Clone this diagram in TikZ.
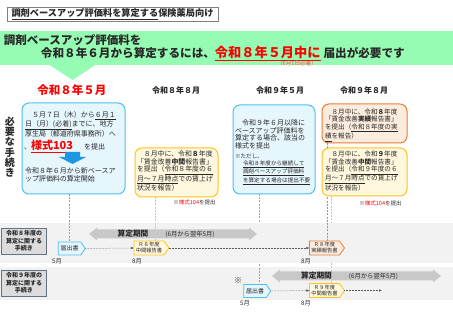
\documentclass[tikz,border=0pt]{standalone}
\usepackage{fontspec}
\setmainfont{Noto Sans CJK JP}
\usetikzlibrary{arrows.meta,shapes.symbols,calc}
\pgfdeclarelayer{l0}\pgfdeclarelayer{l1}\pgfdeclarelayer{l2}\pgfdeclarelayer{l3}
\pgfsetlayers{l0,l1,l2,l3,main}
\definecolor{cgreen}{RGB}{150,252,180}
\definecolor{cred}{RGB}{255,0,0}
\definecolor{cblueB}{RGB}{80,190,240}
\definecolor{cblueF}{RGB}{230,246,253}
\definecolor{cblueA}{RGB}{30,150,225}
\definecolor{cyelB}{RGB}{255,195,30}
\definecolor{cyelF}{RGB}{255,247,222}
\definecolor{coraB}{RGB}{230,125,55}
\definecolor{coraF}{RGB}{252,236,222}
\definecolor{cpink}{RGB}{250,110,110}
\definecolor{cband}{RGB}{242,242,242}
\definecolor{carrow}{RGB}{200,200,200}
\definecolor{clabF}{RGB}{220,220,220}
\definecolor{clabB}{RGB}{100,115,130}
\definecolor{ctext}{RGB}{40,40,40}
\newcommand\myul[1]{\underline{#1}}
\newcommand\fs[2]{\fontsize{#1}{#2}\selectfont}
\begin{document}
\begin{tikzpicture}[x=1pt,y=-1pt,
  every node/.style={inner sep=0pt,outer sep=0pt,text=ctext},
  boxB/.style={draw=cblueB,fill=cblueF,line width=1pt,rounded corners=7pt,anchor=north west},
  boxY/.style={draw=cyelB,fill=cyelF,line width=1pt,rounded corners=7pt,anchor=north west},
  boxO/.style={draw=coraB,fill=coraF,line width=1pt,rounded corners=7pt,anchor=north west},
  txt/.style={anchor=north west,align=left},
  sig/.style={shape=signal,signal to=east,signal pointer angle=110,line width=0.8pt,align=center},
  sigB/.style={sig,draw=cblueB,fill=cblueF,minimum width=27pt,minimum height=13pt,font=\fs{6}{7}},
  sigY/.style={sig,draw=cyelB,fill=cyelF,minimum width=35pt,minimum height=14pt,font=\fs{5.3}{6}},
  sigO/.style={sig,draw=coraB,fill=coraF,minimum width=35pt,minimum height=14pt,font=\fs{5.3}{6}},
  lab/.style={draw=clabB,fill=clabF,line width=0.8pt,minimum width=45pt,minimum height=26pt,anchor=north west,align=center,font=\fs{6}{7.5}\bfseries},
  mon/.style={font=\fs{6.2}{7}},
  vdash/.style={dash pattern=on 2pt off 1.2pt,line width=0.9pt},
  dotc/.style={draw=black!65,densely dotted,line width=0.5pt,-{Latex[length=3pt,width=2.6pt]}},
  hd/.style={font=\fs{8}{9}\bfseries}
]
\useasboundingbox (0,0) rectangle (453,320);

% title
\node[draw=gray,line width=0.6pt,minimum width=211pt,minimum height=14pt,font=\fs{9.2}{10}\bfseries] (tb) at (112.5,14) {\myul{調剤ベースアップ評価料を算定する}保険薬局向け};

% banner
\fill[cgreen] (0,31) rectangle (453,65);
\fill[cgreen] (48,64) -- (97,64) -- (72.5,80) -- cycle;
\node[anchor=base west,font=\fs{11.5}{12}\bfseries] (bn1) at (4,44.8) {調剤ベースアップ評価料を};
\node[anchor=base west,font=\fs{11.6}{12}\bfseries] (bn2) at (41,57.4) {令和８年６月から算定するには、{\color{cred}\fs{13.2}{14}\myul{令和８年５月中に}}\hspace{3pt}届出が必要です};
\node[font=\fs{5.6}{6},text=cred!70] (nb) at (297,63.5) {（6月1日必着）};

% headers
\node[font=\fs{11.5}{12}\bfseries,text=cred] (h1) at (72,90) {令和８年５月};
\node[hd] (h2) at (176,90) {令和８年８月};
\node[hd] (h3) at (280,90) {令和９年５月};
\node[hd] (h4) at (364,90) {令和９年８月};
\node[font=\fs{10}{10.2}\bfseries,align=center] (vt) at (10,147) {必\\要\\な\\手\\続\\き};

% boxes
\node[boxB,minimum width=103pt,minimum height=91pt] (b1) at (22,103) {};
\node[boxY,minimum width=83pt,minimum height=49pt] (b2) at (135,148) {};
\node[boxB,minimum width=82pt,minimum height=89pt] (b3) at (233,105) {};
\node[boxO,minimum width=85pt,minimum height=39pt] (b4) at (322,104) {};
\node[boxY,minimum width=85pt,minimum height=48pt] (b5) at (322,148) {};

% box 1 text
\node[txt,font=\fs{7}{9}] (t1a) at (25,111.5) {　５月７日（木）から\myul{６月１}\\\myul{日（月）(必着)}までに、地方\\厚生局（都道府県事務所）へ};
\node[anchor=base west,font=\fs{7}{9}] (t1b) at (24,149.3) {、{\color{cred}\bfseries\fs{11}{12}\myul{様式103}}\hspace{11pt}を提出};
\fill[cblueA] (65,152) -- (80,152) -- (80,157) -- (86,157) -- (72.5,164) -- (59,157) -- (65,157) -- cycle;
\node[txt,font=\fs{7}{8.2}] (t1c) at (25,167.5) {令和８年６月から新ベースア\\ップ評価料の算定開始};

% box 2 text
\node[txt,font=\fs{6.9}{7.75}] (t2) at (137,150.6) {　８月中に、令和\textbf{８}年度\\「賃金改善\textbf{中間}報告書」\\を提出（\myul{令和８年度の６}\\\myul{月～７月時点}での賃上げ\\状況を報告）};
\node[font=\fs{5.5}{6}] (n104a) at (194.5,202) {※{\color{cred}様式104}を提出};

% box 3 text
\node[txt,font=\fs{7}{7.7}] (t3a) at (235,119.5) {　令和９年６月以降に\\ベースアップ評価料を\\算定する場合、該当の\\様式を提出};
\node[txt,font=\fs{5.6}{7}] (t3b) at (235,154.2) {※ただし、\\\hspace*{8pt}\myul{令和８年度から継続して}\\\hspace*{8pt}\myul{調剤ベースアップ評価料}\\\hspace*{8pt}\myul{を算定する場合は提出不要}};

% box 4 / 5 text
\node[txt,font=\fs{6.6}{7.7}] (t4) at (325,108.7) {　８月中に、令和\textbf{８}年度\\「賃金改善\textbf{実績}報告書」\\を提出（\myul{令和８年度の実}\\\myul{績}を報告）};
\node[txt,font=\fs{6.6}{7.75}] (t5) at (325,150.7) {　８月中に、令和\textbf{９}年度\\「賃金改善\textbf{中間}報告書」\\を提出（\myul{令和９年度の６}\\\myul{月～７月時点}での賃上げ\\状況を報告）};
\node[font=\fs{5.5}{6}] (n104b) at (380.5,203) {※{\color{cred}様式104}を提出};

% timeline rows
\node[lab] (lab1) at (1.5,228) {令和８年度の\\算定に関する\\手続き};
\node[lab] (lab2) at (1.5,270) {令和９年度の\\算定に関する\\手続き};

\fill[carrow] (89,234) -- (97,227.5) -- (97,229.5) -- (249,229.5) -- (249,227.5) -- (257,234) -- (249,240.5) -- (249,238.5) -- (97,238.5) -- (97,240.5) -- cycle;
\node[font=\fs{7.7}{8}\bfseries] (sa1) at (133,234) {算定期間};
\node[font=\fs{6.3}{7}] (sb1) at (190,234) {(6月から翌年5月)};
\fill[carrow] (272,276) -- (280,269.5) -- (280,271.5) -- (433,271.5) -- (433,269.5) -- (441,276) -- (433,282.5) -- (433,280.5) -- (280,280.5) -- (280,282.5) -- cycle;
\node[font=\fs{7.7}{8}\bfseries] (sa2) at (316.5,276) {算定期間};
\node[font=\fs{6.3}{7}] (sb2) at (373.5,276) {(6月から翌年5月)};

\node[sigB] (f1) at (69.5,248.5) {届出書};
\node[sigY] (m8) at (149,248) {Ｒ８年度\\中間報告書};
\node[sigO] (j8) at (324.5,248) {Ｒ８年度\\実績報告書};
\node[sigB] (f2) at (255,291) {届出書};
\node[sigY] (m9) at (324.5,290.5) {Ｒ９年度\\中間報告書};
\node[font=\fs{8}{8}] (kome) at (238,281) {※};

\node[mon] (mo1) at (57,261) {5月};
\node[mon] (mo2) at (137,261) {8月};
\node[mon] (mo3) at (306,261) {8月};
\node[mon] (mo4) at (245,303) {5月};
\node[mon] (mo5) at (306,303) {8月};

\coordinate (end9) at (382,290.5);
\draw[dotc] (f1.east) -- (m8.west);
\draw[dotc] (m8.east) -- (j8.west);
\draw[dotc] (f2.east) -- (m9.west);
\draw[dotc] (m9.east) -- (end9);

\coordinate (x2) at (155,0);
\coordinate (x3) at (259,0);
\coordinate (x4) at (327,0);
\coordinate (x5) at (331,0);

\begin{pgfonlayer}{l0}
\fill[cband] (0,267) rectangle (453,300);
\end{pgfonlayer}
\begin{pgfonlayer}{l1}
\draw[vdash,cblueB] (b3.south -| x3) -- (f2.north -| x3);
\draw[vdash,cyelB] (b5.south -| x5) -- (m9.north -| x5);
\end{pgfonlayer}
\begin{pgfonlayer}{l2}
\fill[cband] (0,223) rectangle (453,263);
\end{pgfonlayer}
\begin{pgfonlayer}{l3}
\draw[vdash,cblueB] (b1.south -| f1.north) -- (f1.north);
\draw[vdash,cyelB] (b2.south -| x2) -- (m8.north -| x2);
\draw[vdash,cpink] (b4.south -| x4) -- (j8.north -| x4);
\end{pgfonlayer}
\end{tikzpicture}
\end{document}
